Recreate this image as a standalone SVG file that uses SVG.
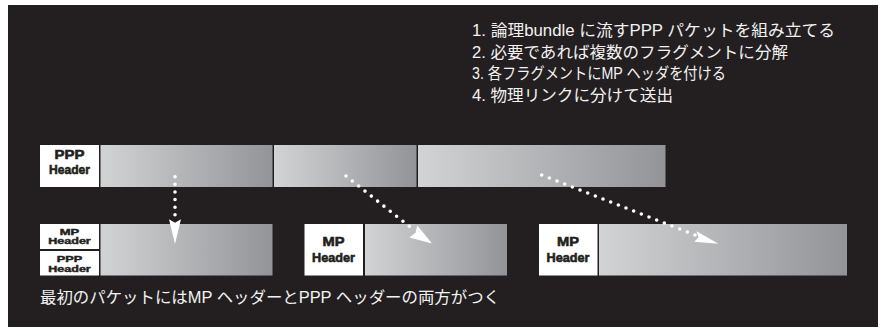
<svg xmlns="http://www.w3.org/2000/svg" width="884" height="332" viewBox="0 0 884 332">
  <defs>
    <linearGradient id="gr" x1="0" y1="0" x2="1" y2="0">
      <stop offset="0" stop-color="#d2d3d5"/>
      <stop offset="1" stop-color="#929497"/>
    </linearGradient>
    <style>
      .bg { fill: #231f20; }
      .seg { fill: url(#gr); }
      .hdr { fill: #ffffff; }
      .txt { font-family: "Liberation Sans", "Noto Sans CJK JP", sans-serif; font-size: 16px; fill: #f2f2f2; }
      .hl { font-family: "Liberation Sans", "DejaVu Sans", sans-serif; font-weight: bold; font-size: 13.4px; fill: #231f20; stroke: #231f20; stroke-width: 0.6; text-anchor: middle; }
      .hs { font-family: "Liberation Sans", "DejaVu Sans", sans-serif; font-weight: bold; font-size: 8.2px; fill: #231f20; stroke: #231f20; stroke-width: 0.4; text-anchor: middle; }
      .dots { fill: none; stroke: #ffffff; stroke-width: 3.6; stroke-linecap: round; }
      .head { fill: #ffffff; }
    </style>
  </defs>

  <rect x="0" y="0" width="884" height="332" fill="#ffffff"/>
  <rect class="bg" x="8" y="5" width="870" height="322"/>

  <g id="steps">
    <text class="txt" x="472" y="36" textLength="363" lengthAdjust="spacingAndGlyphs">1. 論理bundle に流すPPP パケットを組み立てる</text>
    <text class="txt" x="472" y="57.5" textLength="316" lengthAdjust="spacingAndGlyphs">2. 必要であれば複数のフラグメントに分解</text>
    <text class="txt" x="472" y="79" textLength="254" lengthAdjust="spacingAndGlyphs">3. 各フラグメントにMP ヘッダを付ける</text>
    <text class="txt" x="472" y="100.5" textLength="201" lengthAdjust="spacingAndGlyphs">4. 物理リンクに分けて送出</text>
  </g>

  <g id="ppp-packet">
    <g id="ppp-header-top">
      <rect class="hdr" x="40" y="145" width="59" height="42"/>
      <text class="hl" x="69.5" y="158.8" textLength="30" lengthAdjust="spacingAndGlyphs">PPP</text>
      <text class="hl" x="69.5" y="174.3" textLength="41" lengthAdjust="spacingAndGlyphs">Header</text>
    </g>
    <g id="payload-1">
      <rect class="seg" x="100.5" y="145" width="172" height="42"/>
    </g>
    <g id="payload-2">
      <rect class="seg" x="274" y="145" width="142.5" height="42"/>
    </g>
    <g id="payload-3">
      <rect class="seg" x="418" y="145" width="247.5" height="42"/>
    </g>
  </g>

  <g id="fragment-1">
    <rect class="hdr" x="40" y="224" width="59" height="25"/>
    <text class="hs" x="69.5" y="234.6" textLength="19.5" lengthAdjust="spacingAndGlyphs">MP</text>
    <text class="hs" x="69.5" y="244.2" textLength="42.5" lengthAdjust="spacingAndGlyphs">Header</text>
    <rect class="hdr" x="40" y="251" width="59" height="24.5"/>
    <text class="hs" x="69.5" y="262.2" textLength="25.5" lengthAdjust="spacingAndGlyphs">PPP</text>
    <text class="hs" x="69.5" y="271.8" textLength="42.5" lengthAdjust="spacingAndGlyphs">Header</text>
    <rect class="seg" x="100.5" y="224" width="172" height="51.5"/>
  </g>

  <g id="fragment-2">
    <rect class="hdr" x="304.5" y="224" width="58.5" height="51.5"/>
    <text class="hl" x="333.5" y="246" textLength="22" lengthAdjust="spacingAndGlyphs">MP</text>
    <text class="hl" x="333.5" y="261.8" textLength="43" lengthAdjust="spacingAndGlyphs">Header</text>
    <rect class="seg" x="365" y="224" width="142" height="51.5"/>
  </g>

  <g id="fragment-3">
    <rect class="hdr" x="539" y="224" width="58.5" height="51.5"/>
    <text class="hl" x="568" y="246" textLength="22" lengthAdjust="spacingAndGlyphs">MP</text>
    <text class="hl" x="568" y="261.8" textLength="43" lengthAdjust="spacingAndGlyphs">Header</text>
    <rect class="seg" x="599" y="224" width="248" height="51.5"/>
  </g>

  <g id="connectors">
    <line class="dots" x1="175" y1="176.7" x2="175" y2="214.8" stroke-dasharray="0 7.62"/>
    <polygon class="head" points="175,244 181,219.3 175,222.8 169,219.3"/>

    <line class="dots" x1="346" y1="176" x2="409.3" y2="226.3" stroke-dasharray="0 8.08"/>
    <polygon class="head" points="432,243.5 409.3,237.5 415.5,232.8 417.3,225.5"/>

    <line class="dots" x1="541.7" y1="175" x2="695" y2="235" stroke-dasharray="0 8.23"/>
    <polygon class="head" points="718.5,243.7 694.3,241.8 698.5,237.3 696.5,231.3"/>
  </g>

  <g id="caption">
    <text class="txt" x="40" y="303" textLength="460" lengthAdjust="spacingAndGlyphs">最初のパケットにはMP ヘッダーとPPP ヘッダーの両方がつく</text>
  </g>
</svg>
